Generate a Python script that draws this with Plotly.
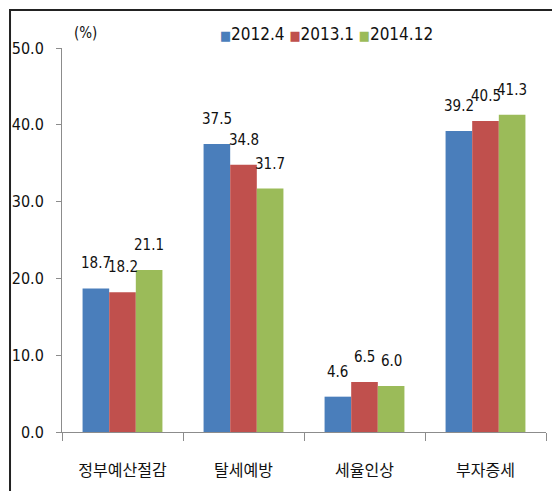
import plotly.graph_objects as go

categories = ['정부예산절감', '탈세예방', '세율인상', '부자증세']
series_names = ['2012.4', '2013.1', '2014.12']
values_2012_4 = [18.7, 37.5, 4.6, 39.2]
values_2013_1 = [18.2, 34.8, 6.5, 40.5]
values_2014_12 = [21.1, 31.7, 6.0, 41.3]
y_ticks = [0, 10, 20, 30, 40, 50]
y_tick_labels = ['0.0', '10.0', '20.0', '30.0', '40.0', '50.0']

colors = ['#4A7EBB', '#C0504D', '#9BBB59']
num_font = 'DejaVu Sans Condensed, Liberation Sans Narrow, Noto Sans CJK KR'
kr_font = 'Noto Sans CJK KR'

# page body has an 8px margin, so the figure is kept 16px smaller than the window
W, H = 544, 483
ML, MR, MT, MB = 54, 6, 40, 59
BARGAP = 0.34
plot_w = W - ML - MR
bar_px = plot_w / len(categories) * (1 - BARGAP) / len(series_names)

all_values = [values_2012_4, values_2013_1, values_2014_12]

fig = go.Figure()
for name, vals, color in zip(series_names, all_values, colors):
    fig.add_trace(go.Bar(
        x=categories,
        y=vals,
        name=name,
        marker=dict(color=color, line=dict(width=0)),
        showlegend=False,
    ))

# data labels sit a bit higher above the bars, as in the Excel chart
for i, vals in enumerate(all_values):
    for cat, v in zip(categories, vals):
        fig.add_annotation(
            x=cat, y=v, text=f'{v:.1f}', showarrow=False,
            xanchor='center', yanchor='bottom',
            xshift=(i - 1) * bar_px, yshift=14,
            font=dict(family=num_font, size=15, color='#111111'),
        )

# legend drawn as a line of coloured squares and names
legend_text = ' '.join(
    f"<span style='color:{c};font-size:13px'>■</span>{n}" for n, c in zip(series_names, colors)
)
fig.add_annotation(
    text=legend_text, xref='paper', yref='paper', x=0.546, y=1.036,
    xanchor='center', yanchor='middle', showarrow=False,
    font=dict(family=num_font, size=17, color='#111111'),
)

fig.add_annotation(
    text='(%)', xref='paper', yref='paper', x=0.021, y=1.039,
    xanchor='left', yanchor='middle', showarrow=False,
    font=dict(family=num_font, size=15, color='#111111'),
)

fig.update_layout(
    width=W,
    height=H,
    margin=dict(l=ML, r=MR, t=MT, b=MB, autoexpand=False),
    paper_bgcolor='white',
    plot_bgcolor='white',
    barmode='group',
    bargap=BARGAP,
    bargroupgap=0,
    showlegend=False,
)

fig.update_xaxes(
    showline=True, linecolor='#8c8c8c', linewidth=1,
    ticks='outside', tickson='boundaries', ticklen=8, tickcolor='#8c8c8c',
    tickfont=dict(family=kr_font, size=16, color='#111111'),
    ticklabelstandoff=24,
    showgrid=False,
)
fig.update_yaxes(
    range=[0, 50],
    tickvals=y_ticks, ticktext=y_tick_labels,
    showline=True, linecolor='#8c8c8c', linewidth=1,
    ticks='outside', ticklen=5, tickcolor='#8c8c8c',
    tickfont=dict(family=num_font, size=16, color='#111111'),
    ticklabelstandoff=9,
    showgrid=False, zeroline=False,
)

# outer chart frame (right and bottom edges fall outside the picture)
fig.add_shape(
    type='rect', xref='paper', yref='paper',
    x0=-0.1074, x1=1.2, y0=-0.3, y1=1.099,
    line=dict(color='#222222', width=2),
)

fig.write_html('out.html')
